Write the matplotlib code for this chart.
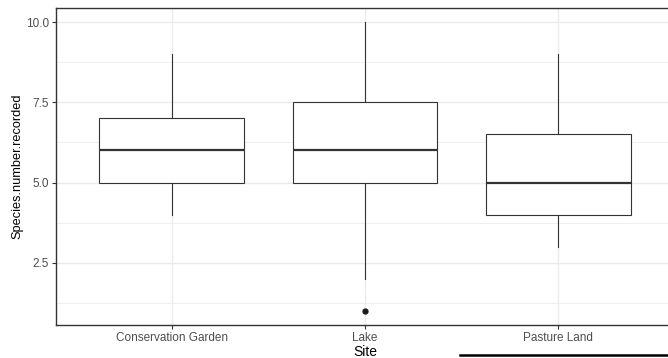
import matplotlib
matplotlib.use("Agg")
import matplotlib.pyplot as plt
from matplotlib.lines import Line2D
from matplotlib.ticker import MultipleLocator

plt.rcParams['font.family'] = ['Liberation Sans', 'DejaVu Sans']

sites = ['Conservation Garden', 'Lake', 'Pasture Land']
whisker_low = [4, 2, 3]
box_low = [5, 5, 4]
medians = [6, 6, 5]
box_high = [7, 7.5, 6.5]
whisker_high = [9, 10, 9]
outliers = [[], [1], []]

stats = []
for i in range(len(sites)):
    stats.append(dict(label=sites[i], whislo=whisker_low[i], q1=box_low[i], med=medians[i],
                      q3=box_high[i], whishi=whisker_high[i], fliers=outliers[i]))

fig = plt.figure(figsize=(6.68, 3.58), dpi=100)
ax = fig.add_axes([56 / 668, 33 / 358, 618 / 668, 317 / 358])

line_col = '#333333'
ax.bxp(stats, positions=[1, 2, 3], widths=0.75, showcaps=False, patch_artist=True,
       boxprops=dict(facecolor='white', edgecolor=line_col, linewidth=0.8),
       whiskerprops=dict(color=line_col, linewidth=0.8),
       medianprops=dict(color=line_col, linewidth=1.6),
       flierprops=dict(marker='o', markersize=3.5, markerfacecolor='#1a1a1a',
                       markeredgecolor='#1a1a1a'),
       zorder=3)

ax.set_xlim(0.4, 3.6)
ax.set_ylim(0.55, 10.45)
ax.yaxis.set_minor_locator(MultipleLocator(1.25))
ax.set_yticks([2.5, 5.0, 7.5, 10.0])
ax.set_yticklabels(['2.5', '5.0', '7.5', '10.0'])
ax.set_xticks([1, 2, 3])
ax.set_xticklabels(sites)

ax.grid(True, which='major', color='#EBEBEB', linewidth=1.0, zorder=0)
ax.grid(True, which='minor', axis='y', color='#EBEBEB', linewidth=0.6, zorder=0)
ax.set_axisbelow(True)

for s in ax.spines.values():
    s.set_color('#333333')
    s.set_linewidth(1.0)

ax.tick_params(axis='both', which='major', colors='#333333', labelcolor='#4D4D4D',
               labelsize=8.5, length=3, width=0.8, pad=2)
ax.tick_params(axis='y', which='minor', length=0)

ax.set_xlabel('Site', fontsize=10, color='black', labelpad=1)
ax.set_ylabel('Species.number.recorded', fontsize=9.2, color='black', labelpad=1.5)

# stray black line at the bottom edge of the screenshot
fig.add_artist(Line2D([460 / 668, 1.0], [3.5 / 358, 3.5 / 358], color='black', linewidth=1.8))

fig.savefig('out.png', dpi=100)
